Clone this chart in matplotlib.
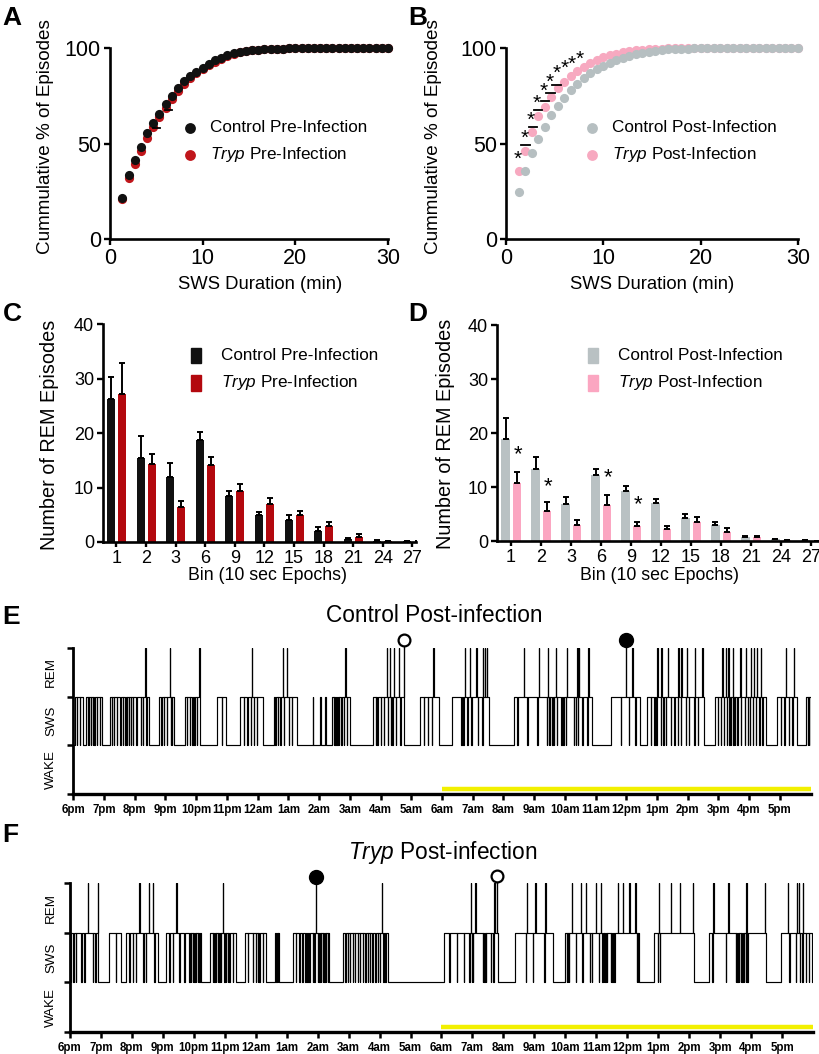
import matplotlib
matplotlib.use('Agg')
import matplotlib.pyplot as plt
import numpy as np
from matplotlib.lines import Line2D
from matplotlib.patches import Rectangle

plt.rcParams['font.family'] = ['Liberation Sans', 'DejaVu Sans']
plt.rcParams['mathtext.fontset'] = 'custom'
plt.rcParams['mathtext.rm'] = 'Liberation Sans'
plt.rcParams['mathtext.it'] = 'Liberation Sans:italic'

# ---- panel A / B: cumulative SWS episode duration ----
dur_min = [1.33, 2.0, 2.67, 3.33, 4.0, 4.67, 5.33, 6.0, 6.67, 7.33, 8.0, 8.67, 9.33, 10.0,
           10.67, 11.33, 12.0, 12.67, 13.33, 14.0, 14.67, 15.33, 16.0, 16.67, 17.33, 18.0,
           18.67, 19.33, 20.0, 20.67, 21.33, 22.0, 22.67, 23.33, 24.0, 24.67, 25.33, 26.0,
           26.67, 27.33, 28.0, 28.67, 29.33, 30.0]
ctrl_pre = [21.7, 33.6, 41.2, 48.3, 55.7, 60.5, 65.4, 70.6, 75.0, 79.3, 82.6, 85.2, 87.5, 89.6,
            91.8, 93.6, 95.0, 96.2, 97.2, 97.9, 98.4, 98.8, 99.1, 99.3, 99.5, 99.6, 99.7, 99.8,
            99.8, 99.9, 99.9, 99.9, 100, 100, 100, 100, 100, 100, 100, 100, 100, 100, 100, 100]
tryp_pre = [21.0, 32.0, 39.5, 46.2, 53.0, 58.8, 63.8, 68.8, 73.5, 77.5, 81.3, 84.2, 86.8, 89.0,
            91.0, 92.8, 94.5, 95.9, 97.0, 97.8, 98.4, 98.8, 99.1, 99.3, 99.5, 99.6, 99.7, 99.8,
            99.8, 99.9, 99.9, 99.9, 100, 100, 100, 100, 100, 100, 100, 100, 100, 100, 100, 100]
ctrl_post = [24.5, 35.6, 44.9, 52.5, 58.6, 64.7, 69.6, 73.9, 77.9, 81.4, 84.5, 87.0, 88.9, 90.6,
             92.2, 93.6, 94.8, 95.9, 96.8, 97.5, 98.1, 98.6, 99.0, 99.3, 99.5, 99.6, 99.7, 99.8,
             99.8, 99.9, 99.9, 100, 100, 100, 100, 100, 100, 100, 100, 100, 100, 100, 100, 100]
tryp_post = [35.8, 46.3, 55.8, 64.5, 69.2, 74.4, 78.8, 82.3, 85.2, 88.0, 90.3, 92.2, 93.8, 95.1,
             96.2, 97.1, 97.8, 98.4, 98.8, 99.1, 99.4, 99.6, 99.7, 99.8, 99.8, 99.9, 99.9, 100,
             100, 100, 100, 100, 100, 100, 100, 100, 100, 100, 100, 100, 100, 100, 100, 100]
star_x = [1.2, 1.88, 2.56, 3.18, 3.86, 4.48, 5.16, 5.98, 6.76, 7.6]
star_y = [43.1, 54.4, 63.7, 72.7, 78.8, 83.5, 88.0, 91.0, 93.0, 95.7]
dash_x = [1.98, 2.77, 3.3, 4.0, 4.6, 5.2]
dash_y = [49.2, 58.8, 67.5, 72.2, 76.5, 80.5]
dashA_x = [5.0, 6.3]
dashA_y = [58.3, 67.8]

# ---- panel C / D: REM episode counts per bin ----
bins = ['1', '2', '3', '6', '9', '12', '15', '18', '21', '24', '27']
ctrl_pre_rem = [26.3, 15.5, 11.9, 18.7, 8.4, 5.0, 4.1, 2.1, 0.5, 0.25, 0.1]
ctrl_pre_sem = [3.9, 3.9, 2.6, 1.4, 1.0, 0.5, 0.8, 0.7, 0.2, 0.1, 0.05]
tryp_pre_rem = [27.1, 14.3, 6.5, 14.1, 9.4, 7.0, 4.9, 3.0, 1.0, 0.15, 0.05]
tryp_pre_sem = [5.7, 1.9, 1.0, 1.5, 1.3, 1.1, 0.7, 0.6, 0.4, 0.05, 0.05]
ctrl_post_rem = [18.8, 13.3, 6.9, 12.2, 9.3, 7.0, 4.2, 2.9, 0.7, 0.3, 0.15]
ctrl_post_sem = [4.0, 2.3, 1.2, 1.2, 0.9, 0.7, 0.8, 0.7, 0.3, 0.1, 0.05]
tryp_post_rem = [10.7, 5.6, 3.0, 6.6, 2.7, 2.3, 3.6, 1.7, 0.7, 0.15, 0.05]
tryp_post_sem = [2.1, 1.6, 0.8, 2.0, 0.9, 0.5, 0.8, 0.8, 0.3, 0.05, 0.02]
sig_bins = [0, 1, 3, 4]
sig_y = [16.7, 10.9, 12.6, 7.5]

# ---- panel E / F: hypnograms (hours after 6pm) ----
hours = ['6pm', '7pm', '8pm', '9pm', '10pm', '11pm', '12am', '1am', '2am', '3am', '4am', '5am',
         '6am', '7am', '8am', '9am', '10am', '11am', '12pm', '1pm', '2pm', '3pm', '4pm', '5pm']
e_on = [0.07, 0.42, 1.18, 2.78, 3.65, 4.68, 5.44, 6.53, 7.79, 8.03, 8.20, 8.43, 9.76, 11.30,
        12.33, 14.34, 17.51, 18.66, 20.88, 22.92, 23.84]
e_off = [0.30, 0.93, 2.45, 3.27, 4.14, 4.98, 6.18, 7.29, 7.81, 8.05, 8.22, 9.02, 10.78, 11.90,
         13.53, 16.89, 18.45, 20.53, 22.54, 23.55, 24.0]
e_dips = [0.12, 0.21, 0.47, 0.51, 0.58, 0.63, 0.68, 0.77, 0.86,
          1.26, 1.31, 1.42, 1.53, 1.62, 1.69, 1.75, 1.80, 1.88, 1.94, 2.05, 2.20, 2.27, 2.38,
          2.86, 2.94, 3.05, 3.18, 3.21, 3.70, 3.79, 3.87, 3.94, 4.03, 4.84,
          5.55, 5.66, 5.77, 5.88, 5.98, 6.58, 6.66, 6.74, 6.85, 7.01, 7.12,
          8.48, 8.53, 8.59, 8.64, 8.72, 8.81, 8.91,
          9.84, 9.90, 10.00, 10.11, 10.23, 10.33, 10.38, 10.49, 10.65, 11.41, 11.54, 11.68,
          12.63, 12.70, 12.82, 12.95, 13.17, 13.31,
          14.45, 14.78, 15.10, 15.41, 15.47, 15.52, 15.59, 15.65, 15.73, 15.88, 15.95, 16.03,
          16.30, 16.35, 16.43, 16.57, 16.73, 17.82, 18.09, 18.30,
          18.80, 18.91, 18.98, 19.12, 19.21, 19.29, 19.45, 19.56, 19.67, 19.77, 19.94, 20.04,
          20.21, 20.32,
          20.97, 21.07, 21.18, 21.27, 21.35, 21.40, 21.48, 21.53, 21.62, 21.73, 21.86, 21.95,
          22.03, 22.11, 22.22, 22.33, 22.43, 23.03, 23.14, 23.30, 23.41, 23.90, 23.95]
e_rem = [2.35, 3.14, 4.10, 5.82, 6.82, 6.96, 8.86, 10.20, 10.30, 10.43, 10.60, 10.76, 11.72,
         12.74, 12.91, 13.12, 13.34, 13.40, 13.47, 14.67, 15.16, 15.45, 15.70, 16.06, 16.41,
         16.46, 16.76, 17.98, 18.20, 19.01, 19.14, 19.36, 19.69, 19.79, 19.97, 20.23, 20.48,
         21.13, 21.24, 21.32, 21.46, 21.71, 21.89, 22.05, 22.16, 22.25, 22.38, 23.19, 23.46]
e_open, e_filled = 10.76, 17.98

f_on = [0.03, 1.27, 1.81, 3.10, 4.52, 5.66, 6.63, 7.19, 8.81, 12.09, 14.37, 16.00, 18.87,
        20.65, 22.96]
f_off = [0.91, 1.65, 2.83, 4.23, 5.36, 6.33, 6.76, 8.37, 10.26, 13.81, 15.59, 18.39, 20.16,
         22.47, 23.98]
f_dips = [0.11, 0.19, 0.36, 0.46, 0.73, 0.82, 1.49, 1.92, 2.02, 2.13, 2.37, 2.45, 2.72,
          3.21, 3.32, 3.53, 3.69, 3.85, 3.91, 3.96, 4.02, 4.07, 4.12, 4.18,
          4.61, 4.66, 4.71, 4.77, 4.82, 4.87, 4.98, 5.04, 5.09, 5.15, 5.25,
          5.74, 5.90, 6.01, 6.06, 6.11, 6.22, 6.67, 6.72,
          7.30, 7.41, 7.51, 7.60, 7.67, 7.73, 7.84, 7.89, 8.00, 8.05, 8.11, 8.16, 8.22, 8.27, 8.32,
          8.89, 8.97, 9.04, 9.13, 9.21, 9.29, 9.36, 9.45, 9.54, 9.61, 9.69, 9.77, 9.86, 9.94,
          10.01, 10.12, 10.18,
          12.25, 12.49, 12.73, 12.90, 12.98, 13.02, 13.33, 13.38, 13.43, 13.60, 13.67,
          14.73, 14.95, 15.32,
          16.04, 16.08, 16.12, 16.34, 16.55, 16.79, 16.85, 17.09, 17.18, 17.20, 17.24, 17.29,
          17.33, 17.47, 17.52, 17.58, 18.30, 18.34, 18.98, 19.05,
          20.75, 21.18, 21.51, 21.56, 21.61, 21.67, 21.72, 21.77, 21.83, 21.88,
          23.23, 23.44, 23.58, 23.66, 23.77, 23.86]
f_rem = [0.57, 0.89, 2.24, 2.54, 2.67, 3.44, 4.93, 7.94, 10.08,
         12.95, 13.09, 13.70, 13.78, 14.75, 15.03, 15.35, 16.20, 16.50, 16.67, 16.99, 17.15,
         17.69, 17.85, 18.07, 18.26, 19.01, 19.41, 19.70, 20.11, 20.78, 21.27, 21.85, 22.45,
         23.18, 23.47, 23.55, 23.68]
f_open, f_filled = 13.78, 7.94

W, H = 820, 1054
fig = plt.figure(figsize=(W / 100, H / 100), dpi=100)


def px_axes(x0, x1, ytop, ybot):
    return fig.add_axes([x0 / W, 1 - ybot / H, (x1 - x0) / W, (ybot - ytop) / H])


def ftext(x, y, s, **kw):
    fig.text(x / W, 1 - y / H, s, **kw)


def style(ax, lsize=15.5):
    for s in ['top', 'right']:
        ax.spines[s].set_visible(False)
    for s in ['left', 'bottom']:
        ax.spines[s].set_linewidth(1.9)
    ax.tick_params(direction='out', length=4.5, width=1.7, labelsize=lsize, pad=2)


def legend_dot(x, y, color, label):
    fig.add_artist(Line2D([x / W], [1 - y / H], marker='o', ms=7.8, color=color,
                          mec='none', transform=fig.transFigure))
    ftext(x + 20, y, label, fontsize=12.3, va='center', ha='left')


def legend_box(x, y, color, label):
    fig.add_artist(Rectangle(((x - 5) / W, 1 - (y + 7.5) / H), 10 / W, 15 / H,
                             color=color, transform=fig.transFigure))
    ftext(x + 25, y, label, fontsize=12.3, va='center', ha='left')


# ---------- A ----------
axA = px_axes(110, 388, 48, 239)
axA.plot(dur_min, tryp_pre, 'o', color='#c0161b', ms=6.6, mec='none', clip_on=False)
axA.plot(dur_min, ctrl_pre, 'o', color='#111111', ms=6.6, mec='none', clip_on=False)
for x, y in zip(dashA_x, dashA_y):
    axA.plot([x - 0.4, x + 0.4], [y, y], color='black', lw=1.3)
axA.set_xlim(0, 30)
axA.set_ylim(0, 100)
axA.set_xticks([0, 10, 20, 30])
axA.set_yticks([0, 50, 100])
style(axA)
legend_dot(190, 128, '#111111', 'Control Pre-Infection')
legend_dot(190, 155, '#c0161b', r'$\mathit{Tryp}$ Pre-Infection')
ftext(46, 137, 'Cummulative % of Episodes', rotation=90, fontsize=13.6, ha='center', va='center')
ftext(260, 284, 'SWS Duration (min)', fontsize=13.3, ha='center', va='center')

# ---------- B ----------
axB = px_axes(506, 798, 48, 239)
axB.plot(dur_min, tryp_post, 'o', color='#f7a9c0', ms=6.6, mec='none', clip_on=False)
axB.plot(dur_min, ctrl_post, 'o', color='#b6bfc1', ms=6.6, mec='none', clip_on=False)
for x, y in zip(star_x, star_y):
    axB.text(x, y - 1.5, '*', fontsize=15, ha='center', va='center')
for x, y in zip(dash_x, dash_y):
    axB.plot([x - 0.45, x + 0.45], [y, y], color='black', lw=1.3)
axB.set_xlim(0, 30)
axB.set_ylim(0, 100)
axB.set_xticks([0, 10, 20, 30])
axB.set_yticks([0, 50, 100])
style(axB)
legend_dot(592, 128, '#b6bfc1', 'Control Post-Infection')
legend_dot(592, 155, '#f7a9c0', r'$\mathit{Tryp}$ Post-Infection')
ftext(434, 137, 'Cummulative % of Episodes', rotation=90, fontsize=13.6, ha='center', va='center')
ftext(652, 284, 'SWS Duration (min)', fontsize=13.3, ha='center', va='center')


# ---------- C / D ----------
def bar_panel(ax, m1, s1, c1, m2, s2, c2):
    idx = np.arange(len(bins))
    ax.bar(idx - 0.185, m1, width=0.27, color=c1)
    ax.bar(idx + 0.185, m2, width=0.27, color=c2)
    ax.errorbar(idx - 0.185, m1, yerr=[np.zeros(len(m1)), s1], fmt='none', ecolor='black',
                elinewidth=1.4, capsize=2.3, capthick=1.4)
    ax.errorbar(idx + 0.185, m2, yerr=[np.zeros(len(m2)), s2], fmt='none', ecolor='black',
                elinewidth=1.4, capsize=2.3, capthick=1.4)
    ax.set_ylim(0, 40)
    ax.set_yticks([0, 10, 20, 30, 40])
    ax.set_xticks(idx)
    ax.set_xticklabels(bins, family=['Liberation Sans Narrow', 'Liberation Sans'], fontsize=9.5)
    style(ax, 13)
    ax.tick_params(axis='x', length=3.5, pad=2)


axC = px_axes(103, 416, 324, 542)
bar_panel(axC, ctrl_pre_rem, ctrl_pre_sem, '#111111', tryp_pre_rem, tryp_pre_sem, '#b3080e')
axC.set_xlim(-0.456, 10.12)
legend_box(196, 355, '#111111', 'Control Pre-Infection')
legend_box(196, 383, '#b3080e', r'$\mathit{Tryp}$ Pre-Infection')
ftext(50, 435, 'Number of REM Episodes', rotation=90, fontsize=14.3, ha='center', va='center')
ftext(267, 576, 'Bin (10 sec Epochs)', fontsize=12.8, ha='center', va='center')

axD = px_axes(497, 820, 325, 541)
bar_panel(axD, ctrl_post_rem, ctrl_post_sem, '#b9c1c3', tryp_post_rem, tryp_post_sem, '#fba6c1')
axD.set_xlim(-0.47, 10.3)
for b, y in zip(sig_bins, sig_y):
    axD.text(b + 0.23, y - 0.8, '*', fontsize=16, ha='center', va='center')
legend_box(593, 355, '#b9c1c3', 'Control Post-Infection')
legend_box(593, 383, '#fba6c1', r'$\mathit{Tryp}$ Post-Infection')
ftext(446, 434, 'Number of REM Episodes', rotation=90, fontsize=14.3, ha='center', va='center')
ftext(659, 576, 'Bin (10 sec Epochs)', fontsize=12.8, ha='center', va='center')


# ---------- E / F hypnograms ----------
def hypno(on, off, dips, rem, w=0.012):
    ev = []
    for a, b in zip(on, off):
        ev += [(a, 2), (b, 1)]
    for d in dips:
        ev += [(d, 1), (d + w, 2)]
    for r in rem:
        ev += [(r, 3), (r + w, 2)]
    ev.sort(key=lambda e: e[0])
    t, s = [0.0], [1]
    for ti, si in ev:
        t += [ti, ti]
        s += [s[-1], si]
    t.append(24.0)
    s.append(s[-1])
    return t, s


def hypno_panel(ax, on, off, dips, rem, t_open, y_open, t_fill, y_fill, lab_x):
    t, s = hypno(on, off, dips, rem)
    ax.plot(t, s, color='black', lw=0.85)
    ax.plot([t_open, t_open], [3, y_open], color='black', lw=0.9, clip_on=False)
    ax.plot([t_fill, t_fill], [3, y_fill], color='black', lw=0.9, clip_on=False)
    ax.plot([t_open], [y_open], 'o', ms=8.5, mfc='white', mec='black', mew=1.6, clip_on=False)
    ax.plot([t_fill], [y_fill], 'o', ms=10, color='black', clip_on=False)
    ax.plot([12, 24], [0.1, 0.1], color='#f2f000', lw=3.2, solid_capstyle='butt')
    ax.set_xlim(0, 24)
    ax.set_ylim(0, 3)
    ax.set_yticks([0, 1, 2, 3])
    ax.set_yticklabels([])
    ax.set_xticks(np.arange(24))
    ax.set_xticklabels(hours, fontsize=8.3, fontweight='bold')
    for s_ in ['top', 'right']:
        ax.spines[s_].set_visible(False)
    ax.spines['left'].set_linewidth(2.0)
    ax.spines['bottom'].set_linewidth(2.4)
    ax.tick_params(direction='out', length=4.5, width=1.8, pad=2.5)
    for y, lab in zip([0.5, 1.5, 2.5], ['WAKE', 'SWS', 'REM']):
        ax.text(lab_x, y, lab, rotation=90, fontsize=9.6, ha='center', va='center',
                transform=ax.get_yaxis_transform())


axE = px_axes(73.3, 810.6, 648, 794)
hypno_panel(axE, e_on, e_off, e_dips, e_rem, e_open, 3.16, e_filled, 3.16, -0.030)
ftext(434, 615, 'Control Post-infection', fontsize=16.3, ha='center', va='center')

axF = px_axes(70, 813, 883, 1032)
hypno_panel(axF, f_on, f_off, f_dips, f_rem, f_open, 3.14, f_filled, 3.13, -0.0256)
ftext(443, 853, r'$\mathit{Tryp}$ Post-infection', fontsize=16.3, ha='center', va='center')

# panel letters
for x, y, L in [(12, 18, 'A'), (418, 18, 'B'), (12, 314, 'C'), (418, 314, 'D'),
                (11, 617, 'E'), (10, 835, 'F')]:
    ftext(x, y, L, fontsize=19, fontweight='bold', ha='center', va='center')

fig.savefig('out.png', dpi=100)
